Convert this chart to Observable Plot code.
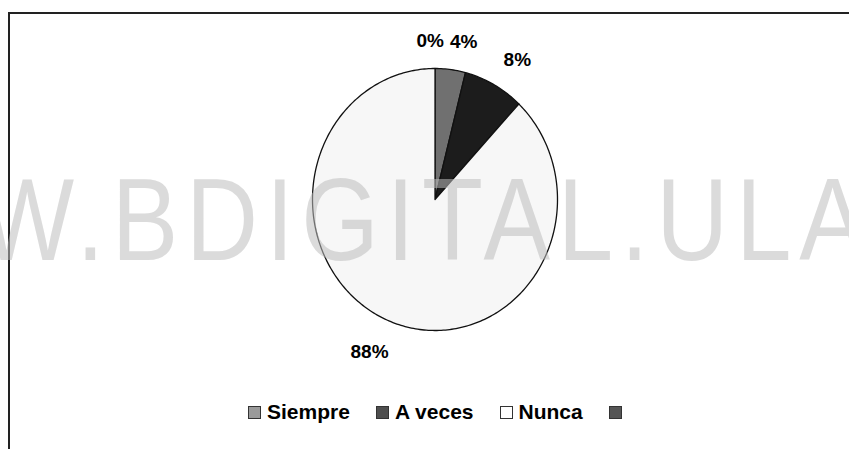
<!DOCTYPE html>
<html>
<head>
<meta charset="utf-8">
<script src="https://cdn.jsdelivr.net/npm/d3@7"></script>
<script src="https://cdn.jsdelivr.net/npm/@observablehq/plot@0.6"></script>
<style>
  html, body { margin: 0; padding: 0; background: #fff; }
  #wrap { position: relative; width: 849px; height: 449px; overflow: hidden; background: #fff; }
  #frame { position: absolute; left: 8px; top: 12px; right: -10px; bottom: -10px;
           border-top: 2px solid #222; border-left: 2px solid #222; pointer-events: none; }
  #chart svg { display: block; }
  #legend { display: flex; align-items: center; height: 44px; padding-left: 248px;
            font-family: "Liberation Sans", Arial, sans-serif; font-weight: bold; font-size: 21px; color: #000; }
  .item { display: flex; align-items: center; margin-right: 26px; }
  .sw { width: 11px; height: 11px; border: 1px solid #333; margin-right: 6px; }
  #wm { position: absolute; left: 0; top: 0; pointer-events: none; }
</style>
</head>
<body>
<div id="wrap">
  <div id="chart"></div>
  <div id="legend"></div>
  <div id="frame"></div>
  <svg id="wm" width="849" height="449">
    <text x="0" y="260" transform="translate(-20,0) scale(0.86,1)"
      font-family="Liberation Sans, Arial, sans-serif" font-size="116" letter-spacing="9"
      fill="rgb(190,190,190)" fill-opacity="0.55">W.BDIGITAL.ULA</text>
  </svg>
</div>
<script>
// Data
const categories = ["Siempre", "A veces", "Nunca", ""];
const percents = [4, 8, 88, 0];
const labels = ["4%", "8%", "88%", "0%"];
const colors = ["#707070", "#1c1c1c", "#f7f7f7", "#4a4a4a"];
const legendColors = ["#9a9a9a", "#4e4e4e", "#ffffff", "#555555"];

const rows = categories.map((c, i) => ({cat: c, value: percents[i], label: labels[i], color: colors[i]}));
const arcs = d3.pie().sort(null).value(d => d.value)(rows);

// slice polygons computed from the pie layout
const slices = arcs.filter(a => a.endAngle > a.startAngle).map(a => {
  const n = Math.max(2, Math.ceil((a.endAngle - a.startAngle) * 180 / Math.PI));
  const pts = [{x: 0, y: 0}];
  for (let k = 0; k <= n; k++) {
    const t = a.startAngle + (a.endAngle - a.startAngle) * k / n;
    pts.push({x: Math.sin(t), y: Math.cos(t)});
  }
  return {color: a.data.color, pts};
});

const R = 1.23;
const labelRows = arcs.map(a => {
  const mid = (a.startAngle + a.endAngle) / 2;
  return {x: R * Math.sin(mid), y: R * Math.cos(mid), label: a.data.label, right: mid < Math.PI - 1e-6};
});

const textStyle = {fontFamily: "Liberation Sans, Arial, sans-serif", fontWeight: "bold", fontSize: 19, fill: "#000"};

const chart = Plot.plot({
  width: 849,
  height: 390,
  margin: 0,
  x: {domain: [-1, 1], range: [312, 557], axis: null},
  y: {domain: [-1, 1], range: [330, 68], axis: null},
  marks: [
    ...slices.map(s => Plot.line(s.pts, {x: "x", y: "y", fill: s.color, stroke: "#111", strokeWidth: 1.3, curve: "linear-closed"})),
    Plot.text(labelRows.filter(d => d.right), {x: "x", y: "y", text: "label", textAnchor: "start", dx: -4, dy: 2, ...textStyle}),
    Plot.text(labelRows.filter(d => !d.right), {x: "x", y: "y", text: "label", textAnchor: "end", dx: 9, dy: 3, ...textStyle})
  ]
});
document.getElementById("chart").appendChild(chart);

// Legend
const legend = document.getElementById("legend");
categories.forEach((c, i) => {
  const item = document.createElement("div");
  item.className = "item";
  const sw = document.createElement("div");
  sw.className = "sw";
  sw.style.background = legendColors[i];
  item.appendChild(sw);
  if (c) {
    const t = document.createElement("span");
    t.textContent = c;
    item.appendChild(t);
  }
  legend.appendChild(item);
});
</script>
</body>
</html>
